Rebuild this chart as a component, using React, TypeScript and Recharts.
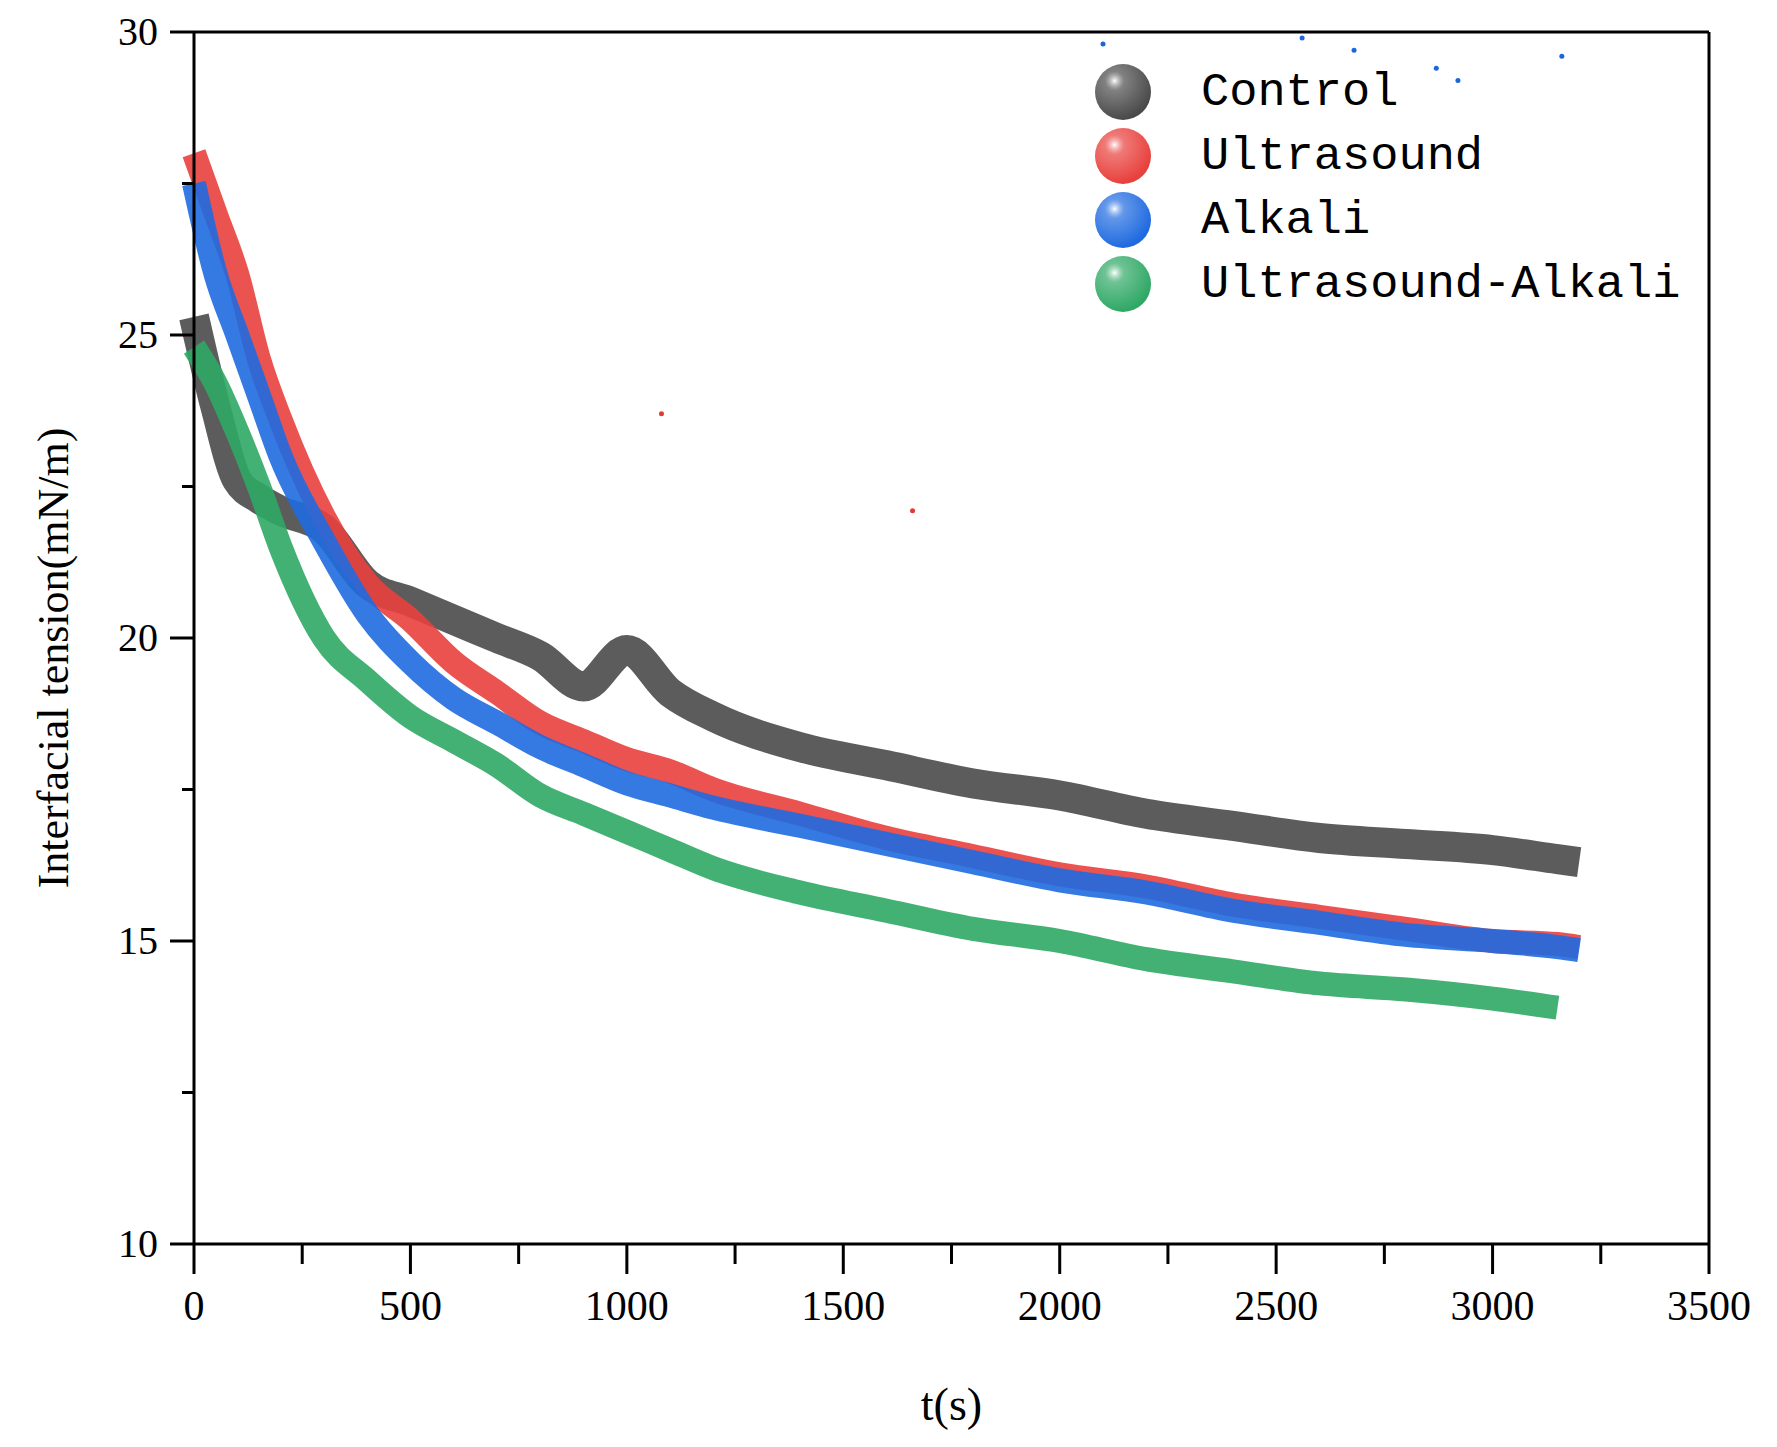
import { ComposedChart, Line, Scatter, XAxis, YAxis, ReferenceLine } from "recharts";

const times = [0, 50, 100, 150, 200, 300, 400, 500, 600, 700, 800, 900, 1000, 1100, 1200, 1400, 1600, 1800, 2000, 2200, 2400, 2600, 2800, 3000, 3150, 3200];
const control = [25.3, 23.8, 22.6, 22.3, 22.1, 21.8, 20.9, 20.6, 20.3, 20.0, 19.7, 19.2, 19.8, 19.1, 18.7, 18.2, 17.9, 17.6, 17.4, 17.1, 16.9, 16.7, 16.6, 16.5, 16.35, 16.3];
const ultrasound = [28.0, 27.0, 26.0, 24.6, 23.6, 22.0, 20.9, 20.3, 19.6, 19.1, 18.6, 18.3, 18.0, 17.8, 17.5, 17.1, 16.7, 16.4, 16.1, 15.9, 15.6, 15.4, 15.2, 15.0, 14.95, 14.9];
const alkali = [27.5, 26.0, 25.0, 24.0, 23.0, 21.6, 20.4, 19.6, 19.0, 18.6, 18.2, 17.9, 17.6, 17.4, 17.2, 16.9, 16.6, 16.3, 16.0, 15.8, 15.5, 15.3, 15.1, 15.0, 14.9, 14.85];
const ultraAlkali = [24.8, 24.2, 23.4, 22.5, 21.5, 20.0, 19.3, 18.7, 18.3, 17.9, 17.4, 17.1, 16.8, 16.5, 16.2, 15.8, 15.5, 15.2, 15.0, 14.7, 14.5, 14.3, 14.2, 14.05, 13.9, null];
const outlierT = [1080, 1660, 2100, 2560, 2680, 2870, 2920, 3160];
const outlierV = [23.7, 22.1, 29.8, 29.9, 29.7, 29.4, 29.2, 29.6];
const outlierColor = ["#e53935", "#e53935", "#1a66dd", "#1a66dd", "#1a66dd", "#1a66dd", "#1a66dd", "#1a66dd"];
const xTicks = [0, 250, 500, 750, 1000, 1250, 1500, 1750, 2000, 2250, 2500, 2750, 3000, 3250, 3500];
const yTicks = [10, 12.5, 15, 17.5, 20, 22.5, 25, 27.5, 30];

const names = ["Control", "Ultrasound", "Alkali", "Ultrasound-Alkali"];
const colors = ["#4a4a4a", "#e8403c", "#1f6ae0", "#2fa865"];
const keys = ["control", "ultrasound", "alkali", "ultraAlkali"];

const data = times.map((t, i) => ({
  t,
  control: control[i],
  ultrasound: ultrasound[i],
  alkali: alkali[i],
  ultraAlkali: ultraAlkali[i],
}));
const outliers = outlierT.map((t, i) => ({ t, v: outlierV[i], c: outlierColor[i] }));

const font = "'Liberation Serif', serif";

const XTick = (p: any) => {
  const major = p.payload.value % 500 === 0;
  return (
    <g>
      <line x1={p.x} x2={p.x} y1={p.y - 8} y2={p.y + (major ? 22 : 12)} stroke="#000" strokeWidth={3} />
      {major && (
        <text x={p.x} y={p.y + 68} textAnchor="middle" fontFamily={font} fontSize={42} fill="#000">
          {p.payload.value}
        </text>
      )}
    </g>
  );
};

const YTick = (p: any) => {
  const major = p.payload.value % 5 === 0;
  return (
    <g>
      <line x1={p.x + 8} x2={p.x + 8 - (major ? 24 : 12)} y1={p.y} y2={p.y} stroke="#000" strokeWidth={3} />
      {major && (
        <text x={p.x - 28} y={p.y + 13} textAnchor="end" fontFamily={font} fontSize={40} fill="#000">
          {p.payload.value}
        </text>
      )}
    </g>
  );
};

const Dot = (p: any) => <circle cx={p.cx} cy={p.cy} r={2.5} fill={p.payload.c} />;

export default function App() {
  return (
    <div style={{ position: "relative", width: 1761, height: 1430 }}>
      <ComposedChart width={1761} height={1430} data={data} margin={{ top: 24, right: 60, left: 86, bottom: 94 }}>
        <defs>
          {colors.map((c, i) => (
            <radialGradient key={i} id={"g" + i} cx="35%" cy="30%" r="70%">
              <stop offset="0%" stopColor="#fff" />
              <stop offset="25%" stopColor={c} stopOpacity={0.7} />
              <stop offset="100%" stopColor={c} />
            </radialGradient>
          ))}
        </defs>
        <XAxis dataKey="t" type="number" domain={[0, 3500]} ticks={xTicks} height={100} stroke="#000" strokeWidth={3} tickLine={false} tick={<XTick />} interval={0} />
        <YAxis type="number" domain={[10, 30]} ticks={yTicks} width={100} stroke="#000" strokeWidth={3} tickLine={false} tick={<YTick />} interval={0} />
        <ReferenceLine y={30} stroke="#000" strokeWidth={3} />
        <ReferenceLine x={3500} stroke="#000" strokeWidth={3} />
        {keys.map((k, i) => (
          <Line key={k} dataKey={k} type="monotone" stroke={colors[i]} strokeWidth={i === 0 ? 30 : 24} strokeOpacity={0.9} dot={false} isAnimationActive={false} connectNulls={false} />
        ))}
        <Scatter data={outliers} dataKey="v" shape={<Dot />} isAnimationActive={false} />
      </ComposedChart>
      <div style={{ position: "absolute", left: 1085, top: 52, fontFamily: "'Liberation Mono', monospace", fontSize: 47 }}>
        {names.map((n, i) => (
          <div key={n} style={{ display: "flex", alignItems: "center", height: 64 }}>
            <svg width={60} height={60} style={{ marginRight: 48 }}>
              <circle cx={30} cy={30} r={28} fill={`url(#g${i})`} />
            </svg>
            <span>{n}</span>
          </div>
        ))}
      </div>
      <div style={{ position: "absolute", left: 0, width: 1761, top: 1370, paddingLeft: 186, fontFamily: font, fontSize: 46, textAlign: "center", boxSizing: "border-box", paddingRight: 60 }}>
        t(s)
      </div>
      <div style={{ position: "absolute", left: 45, top: 650, transform: "translate(-50%,-50%) rotate(-90deg)", whiteSpace: "nowrap", fontFamily: font, fontSize: 44 }}>
        Interfacial tension(mN/m)
      </div>
    </div>
  );
}
